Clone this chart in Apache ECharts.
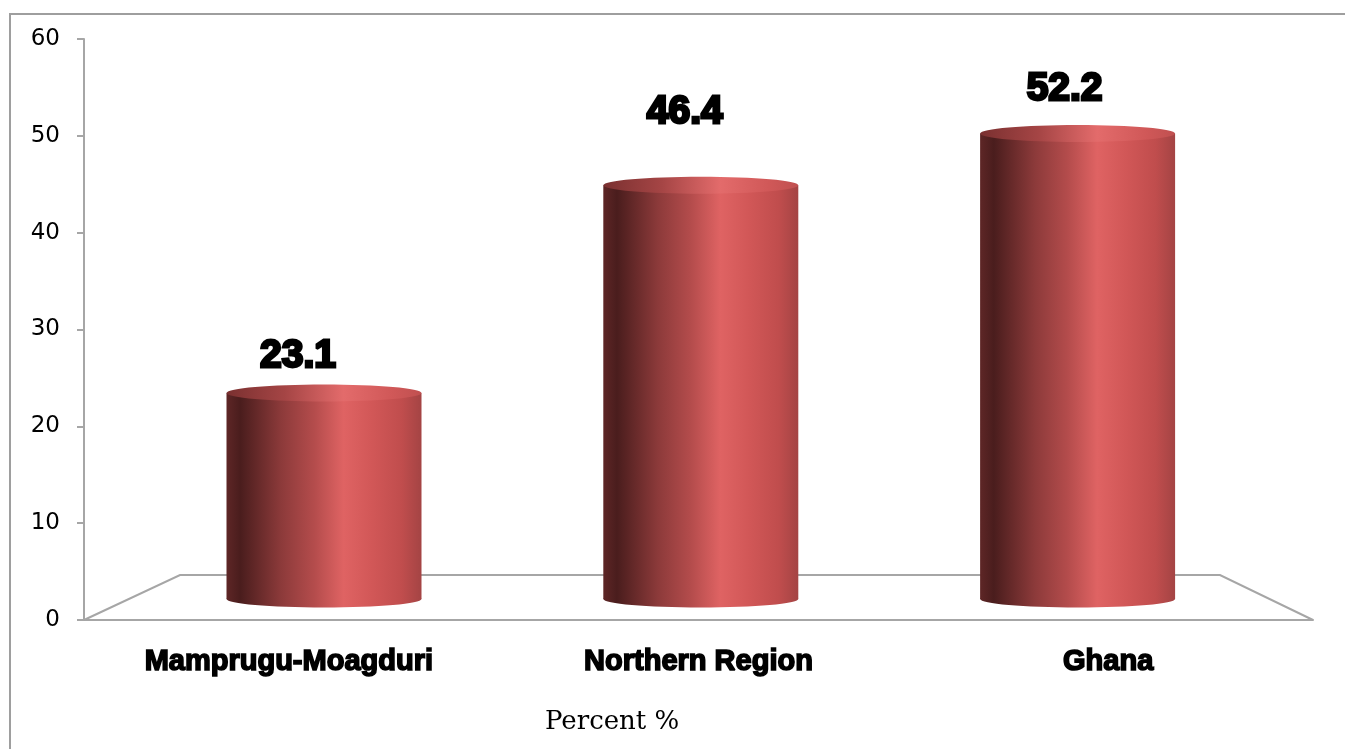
<!DOCTYPE html>
<html>
<head>
<meta charset="utf-8">
<script src="https://cdn.jsdelivr.net/npm/echarts@6/dist/echarts.min.js"></script>
<style>
html,body{margin:0;padding:0;background:#fff;}
#chart{width:1345px;height:749px;}
</style>
</head>
<body>
<div id="chart"></div>
<script>
// ---- data ----
const categories = ['Mamprugu-Moagduri', 'Northern Region', 'Ghana'];
const percentValues = [23.1, 46.4, 52.2];
const axisTitle = 'Percent %';
const yMin = 0, yMax = 60, yInterval = 10;

// label nudges (style only, px)
const labelDx = [-26, -16, -13];
const labelDy = [-37, -73, -44];

const chart = echarts.init(document.getElementById('chart'), null, {renderer: 'canvas'});

const bodyGrad = () => new echarts.graphic.LinearGradient(0, 0, 1, 0, [
  {offset: 0.0, color: '#5e2626'},
  {offset: 0.07, color: '#4a1d1d'},
  {offset: 0.28, color: '#8c3a3a'},
  {offset: 0.45, color: '#b44c4c'},
  {offset: 0.6, color: '#df6363'},
  {offset: 0.75, color: '#d15757'},
  {offset: 0.9, color: '#c04d4d'},
  {offset: 1.0, color: '#a44444'}
]);
const topGrad = () => new echarts.graphic.LinearGradient(0, 0, 1, 0, [
  {offset: 0.0, color: '#7a3030'},
  {offset: 0.3, color: '#a54545'},
  {offset: 0.6, color: '#e36b6b'},
  {offset: 0.85, color: '#d05858'},
  {offset: 1.0, color: '#c05050'}
]);

const option = {
  animation: false,
  backgroundColor: '#ffffff',
  title: {
    text: axisTitle,
    left: 540, top: 704,
    textStyle: {fontFamily: 'DejaVu Serif', fontSize: 26, fontWeight: 'normal', color: '#000'}
  },
  graphic: [{
    type: 'rect', silent: true, z: -1,
    shape: {x: 10, y: 14, width: 1400, height: 800},
    style: {fill: 'none', stroke: '#9e9e9e', lineWidth: 2}
  }],
  grid: [
    {left: 84, right: 32, top: 39, bottom: 129, outerBoundsMode: 'none', containLabel: false},
    {left: 135.6, right: 79, top: 64, bottom: 150, outerBoundsMode: 'none', containLabel: false}
  ],
  xAxis: [
    {
      gridIndex: 0, type: 'category', data: categories, boundaryGap: true,
      axisLine: {show: true, lineStyle: {color: '#a6a6a6', width: 2}},
      axisTick: {show: false},
      splitLine: {show: false},
      axisLabel: {
        margin: 27, fontFamily: 'Liberation Sans', fontSize: 29, fontWeight: 'bold', color: '#000',
        textBorderColor: '#000', textBorderWidth: 1.6, interval: 0
      }
    },
    {
      gridIndex: 1, type: 'category', data: categories, boundaryGap: true, show: false
    }
  ],
  yAxis: [
    {
      gridIndex: 0, type: 'value', min: yMin, max: yMax, interval: yInterval,
      axisLine: {show: true, lineStyle: {color: '#a6a6a6', width: 2}},
      axisTick: {show: true, length: 7, lineStyle: {color: '#a6a6a6', width: 2}},
      splitLine: {show: false},
      axisLabel: {margin: 24, fontFamily: 'DejaVu Sans', fontSize: 23, color: '#000'}
    },
    {
      gridIndex: 1, type: 'value', min: yMin, max: yMax, interval: yInterval, show: false,
      splitLine: {show: false}
    }
  ],
  series: [
    {
      type: 'custom',
      xAxisIndex: 0, yAxisIndex: 0,
      silent: true,
      z: 1,
      data: [[0, 0]],
      renderItem: function (params, api) {
        const cs = params.coordSys;
        const x0 = cs.x, x1 = cs.x + cs.width;
        const yF = api.coord([0, 0])[1];
        const yB = yF - 45;
        const bx0 = x0 + 96, bx1 = x1 - 93;
        return {
          type: 'polyline',
          shape: {points: [[x0, yF], [bx0, yB], [bx1, yB], [x1, yF]]},
          style: {fill: 'none', stroke: '#a6a6a6', lineWidth: 2}
        };
      }
    },
    {
      type: 'custom',
      xAxisIndex: 1, yAxisIndex: 1,
      z: 3,
      data: percentValues.map((v, i) => [i, v]),
      renderItem: function (params, api) {
        const idx = api.value(0);
        const val = api.value(1);
        const top = api.coord([idx, val]);
        const base = api.coord([idx, 0]);
        const band = api.size([1, 0])[0];
        const w = band * 0.5175;
        const rx = w / 2, ry = 8.5;
        const cx = top[0];
        return {
          type: 'group',
          children: [
            {type: 'ellipse', shape: {cx: cx, cy: base[1], rx: rx, ry: ry}, style: {fill: bodyGrad()}},
            {type: 'rect', shape: {x: cx - rx, y: top[1], width: w, height: base[1] - top[1]}, style: {fill: bodyGrad()}},
            {type: 'ellipse', shape: {cx: cx, cy: top[1], rx: rx, ry: ry}, style: {fill: topGrad()}},
            {
              type: 'text',
              x: cx + labelDx[params.dataIndex],
              y: top[1] + labelDy[params.dataIndex],
              style: {
                text: String(val),
                fontFamily: 'Liberation Sans', fontSize: 39, fontWeight: 'bold',
                fill: '#000', stroke: '#000', lineWidth: 2.8,
                align: 'center', verticalAlign: 'middle'
              }
            }
          ]
        };
      }
    }
  ]
};
chart.setOption(option);
</script>
</body>
</html>
